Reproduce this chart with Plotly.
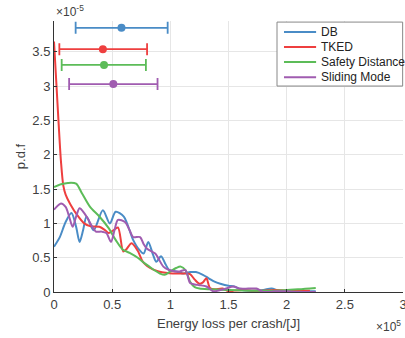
import plotly.graph_objects as go

# x in units of 1e5 J, y in units of 1e-5
db_x = [0, 0.05, 0.10, 0.15, 0.19, 0.22, 0.25, 0.28, 0.34, 0.42, 0.48, 0.53, 0.60, 0.68, 0.73, 0.77, 0.81, 0.85, 0.88, 0.92, 0.96, 0.99, 1.05, 1.11, 1.17, 1.22, 1.28, 1.33, 1.38, 1.43, 1.50, 1.55, 1.60, 1.65, 1.72, 1.80, 1.87, 1.93, 2.0, 2.1, 2.2, 2.25]
db_y = [0.66, 0.80, 1.02, 1.15, 0.95, 0.73, 0.90, 1.10, 0.90, 1.19, 1.00, 1.17, 1.10, 0.76, 0.62, 0.56, 0.73, 0.55, 0.44, 0.52, 0.40, 0.32, 0.30, 0.27, 0.29, 0.29, 0.25, 0.20, 0.15, 0.12, 0.09, 0.08, 0.04, 0.02, 0.02, 0.03, 0.05, 0.02, 0.01, 0.02, 0.01, 0.01]

tked_x = [0, 0.02, 0.04, 0.06, 0.08, 0.10, 0.14, 0.20, 0.26, 0.31, 0.39, 0.44, 0.47, 0.51, 0.55, 0.595, 0.62, 0.667, 0.72, 0.76, 0.80, 0.85, 0.90, 0.96, 1.02, 1.08, 1.13, 1.17, 1.21, 1.25, 1.28, 1.31, 1.34, 1.38, 1.45, 1.50, 1.55, 1.62, 1.70, 1.80, 1.90, 2.0, 2.1, 2.2]
tked_y = [3.65, 3.05, 2.45, 1.90, 1.55, 1.42, 1.28, 1.12, 1.00, 0.96, 0.95, 0.90, 0.86, 0.90, 0.94, 0.59, 0.62, 0.71, 0.60, 0.45, 0.38, 0.33, 0.30, 0.28, 0.27, 0.27, 0.27, 0.26, 0.18, 0.12, 0.14, 0.20, 0.06, 0.04, 0.05, 0.01, 0.02, 0.03, 0.02, 0.02, 0.03, 0.02, 0.02, 0.02]

sd_x = [0, 0.06, 0.12, 0.19, 0.24, 0.31, 0.39, 0.47, 0.53, 0.59, 0.65, 0.72, 0.77, 0.82, 0.87, 0.91, 0.95, 1.0, 1.05, 1.09, 1.13, 1.17, 1.21, 1.25, 1.35, 1.5, 1.7, 1.9, 2.1, 2.25]
sd_y = [1.53, 1.57, 1.59, 1.58, 1.44, 1.24, 1.10, 0.93, 0.76, 0.62, 0.57, 0.50, 0.43, 0.37, 0.31, 0.27, 0.25, 0.30, 0.35, 0.37, 0.32, 0.15, 0.07, 0.05, 0.04, 0.03, 0.02, 0.02, 0.04, 0.06]

sm_x = [0, 0.06, 0.10, 0.13, 0.16, 0.19, 0.22, 0.26, 0.29, 0.33, 0.36, 0.41, 0.45, 0.49, 0.52, 0.55, 0.61, 0.65, 0.68, 0.74, 0.77, 0.80, 0.87, 0.94, 0.99, 1.04, 1.08, 1.13, 1.17, 1.21, 1.25, 1.31, 1.37, 1.43, 1.48, 1.54, 1.60, 1.67, 1.74, 1.80, 1.9, 2.0, 2.1, 2.25]
sm_y = [1.20, 1.29, 1.24, 1.10, 0.95, 1.10, 1.22, 1.15, 1.07, 0.95, 0.88, 0.88, 0.86, 0.73, 0.90, 1.05, 1.02, 0.90, 0.80, 0.80, 0.70, 0.63, 0.56, 0.37, 0.32, 0.30, 0.30, 0.32, 0.13, 0.11, 0.10, 0.08, 0.01, 0.03, 0.05, 0.08, 0.05, 0.05, 0.05, 0.0, 0.01, 0.01, 0.0, 0.0]

names = ["DB", "TKED", "Safety Distance", "Sliding Mode"]
colors = ["#4a8cc6", "#ee3f3f", "#5cbc58", "#a05cb0"]
err_center = [0.58, 0.42, 0.43, 0.51]
err_low = [0.186, 0.046, 0.066, 0.13]
err_high = [0.977, 0.80, 0.79, 0.89]
err_level = [3.85, 3.54, 3.31, 3.03]

xticks = [0, 0.5, 1, 1.5, 2, 2.5, 3]
yticks = [0, 0.5, 1, 1.5, 2, 2.5, 3, 3.5]

series = [(db_x, db_y), (tked_x, tked_y), (sd_x, sd_y), (sm_x, sm_y)]

fig = go.Figure()
for (xs, ys), n, c in zip(series, names, colors):
    fig.add_trace(go.Scatter(x=xs, y=ys, name=n, mode="lines", showlegend=False,
                             line=dict(color=c, width=2, shape="spline", smoothing=0.8)))
for n, c, m, lo, hi, lv in zip(names, colors, err_center, err_low, err_high, err_level):
    fig.add_trace(go.Scatter(x=[m], y=[lv], mode="markers", showlegend=False,
                             marker=dict(color=c, size=8),
                             error_x=dict(type="data", symmetric=False, array=[hi - m],
                                          arrayminus=[m - lo], color=c, thickness=1.8, width=6)))

# compact legend box (paper coordinates)
shapes = [dict(type="rect", xref="paper", yref="paper", x0=0.639, x1=0.999, y0=0.760, y1=0.996,
               fillcolor="white", line=dict(color="#888888", width=1), layer="above")]
annotations = []
leg_y = [0.959, 0.904, 0.849, 0.792]
for n, c, ly in zip(names, colors, leg_y):
    shapes.append(dict(type="line", xref="paper", yref="paper", x0=0.659, x1=0.751, y0=ly, y1=ly,
                       line=dict(color=c, width=2), layer="above"))
    annotations.append(dict(text=n, x=0.759, y=ly, xref="paper", yref="paper",
                            xanchor="left", yanchor="middle", showarrow=False,
                            font=dict(size=12, color="#222222")))

annotations += [
    dict(text="×10<sup>-5</sup>", x=0, y=1, xref="paper", yref="paper",
         xanchor="left", yanchor="bottom", showarrow=False, yshift=0,
         font=dict(size=12, color="#404040")),
    dict(text="×10<sup>5</sup>", x=1, y=0, xref="paper", yref="paper",
         xanchor="right", yanchor="top", showarrow=False, yshift=-24,
         font=dict(size=12, color="#404040")),
]

font = "Liberation Sans, Arial, sans-serif"
fig.update_layout(
    width=405, height=338,
    margin=dict(l=54, r=2, t=21, b=46, autoexpand=False),
    paper_bgcolor="white", plot_bgcolor="white",
    font=dict(family=font, size=13, color="#404040"),
    showlegend=False,
    xaxis=dict(range=[0, 3], tickvals=xticks, showgrid=True, gridcolor="#e6e6e6",
               zeroline=False, showline=True, linecolor="#333333", linewidth=1,
               ticks="inside", ticklen=3, tickcolor="#333333", automargin=False,
               ticklabeloverflow="allow",
               title=dict(text="Energy loss per crash/[J]", standoff=8,
                          font=dict(size=13, color="#404040"))),
    yaxis=dict(range=[0, 3.95], tickvals=yticks, showgrid=True, gridcolor="#e6e6e6",
               zeroline=False, showline=True, linecolor="#333333", linewidth=1,
               ticks="inside", ticklen=3, tickcolor="#333333", automargin=False,
               title=dict(text="p.d.f", standoff=3, font=dict(size=13, color="#404040"))),
    shapes=shapes,
    annotations=annotations,
)
fig.write_html("out.html", config={"displayModeBar": False},
               post_script="document.body.style.margin='0';document.body.style.overflow='hidden';")
